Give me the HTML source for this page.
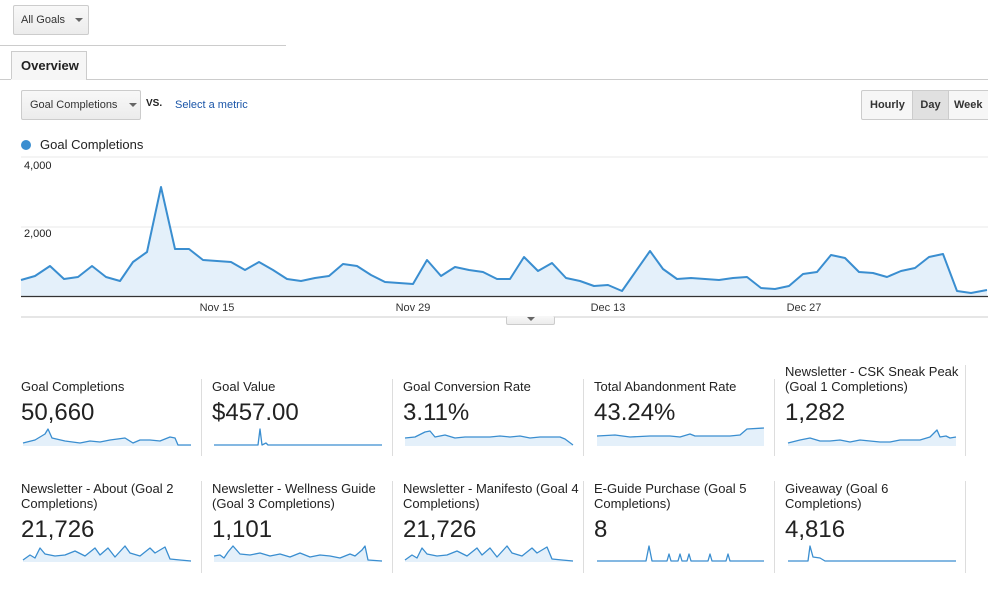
<!DOCTYPE html>
<html><head><meta charset="utf-8"><style>
*{margin:0;padding:0;box-sizing:border-box}
body{width:988px;height:592px;background:#fff;font-family:"Liberation Sans",Arial,sans-serif;position:relative;overflow:hidden;color:#222}
.a{position:absolute}
.btn{border:1px solid #ccc;border-radius:2px;background:linear-gradient(#f8f8f8,#ececec);font-size:11px;color:#333}
.tri{display:inline-block;width:0;height:0;border-left:4px solid transparent;border-right:4px solid transparent;border-top:4px solid #666}
.ct{font-size:13px;color:#222;line-height:15px}
.cv{font-size:24px;color:#222}
.sep{position:absolute;width:1px;background:#ddd}
</style></head><body>
<div class="a btn" style="left:13px;top:5px;width:76px;height:30px;line-height:28px;padding-left:7px;font-size:11px">All Goals <span class="tri" style="margin-left:7px;vertical-align:middle"></span></div>
<div class="a" style="left:0;top:45px;width:286px;height:1px;background:#ccc"></div>
<div class="a" style="left:11px;top:51px;width:76px;height:29px;border:1px solid #ccc;border-bottom:none;background:#f6f6f6;font-weight:bold;font-size:13px;line-height:28px;padding-left:9px">Overview</div>
<div class="a" style="left:0;top:79px;width:988px;height:1px;background:#ccc"></div>
<div class="a" style="left:11px;top:79px;width:75px;height:1px;background:#f6f6f6"></div>
<div class="a btn" style="left:21px;top:90px;width:120px;height:30px;line-height:28px;padding-left:8px">Goal Completions <span class="tri" style="margin-left:8px;vertical-align:middle"></span></div>
<div class="a" style="left:146px;top:98px;font-size:10px;font-weight:bold">VS.</div>
<div class="a" style="left:175px;top:99px;font-size:11px;color:#1a55a8">Select a metric</div>
<div class="a" style="left:861px;top:90px;width:130px;height:30px;border:1px solid #ccc;border-radius:2px;background:#f6f6f6;font-size:11px;font-weight:bold;color:#333">
<span class="a" style="left:8px;top:8px">Hourly</span>
<span class="a" style="left:50px;top:0;width:37px;height:28px;background:#e0e0e0;border-left:1px solid #ccc;border-right:1px solid #ccc;text-align:center;line-height:28px">Day</span>
<span class="a" style="left:92px;top:8px">Week</span></div>
<div class="a" style="left:21px;top:140px;width:10px;height:10px;border-radius:50%;background:#3a8ed0"></div>
<div class="a" style="left:40px;top:137px;font-size:13px">Goal Completions</div>
<div class="a" style="left:24px;top:160px;font-size:11px">4,000</div>
<div class="a" style="left:24px;top:228px;font-size:11px">2,000</div>
<svg class="a" style="left:0;top:150px" width="988" height="180">
<line x1="21" y1="7" x2="988" y2="7" stroke="#e8e8e8"/>
<line x1="21" y1="77" x2="988" y2="77" stroke="#e8e8e8"/>
<g transform="translate(0,-150)">
<polygon fill="#e4f0fa" points="21,296 21,280 35,276 50,266 64,279 78,277 92,266 106,277 120,281 133,262 147,252 161,187 175,249 189,249 203,260 217,261 231,262 245,270 259,262 273,270 287,279 301,281 315,278 329,276 343,264 357,266 371,275 385,282 399,283 413,284 427,260 441,276 455,267 469,270 483,272 497,279 510,279 524,257 538,271 552,263 566,278 580,281 594,286 608,285 622,291 650,251 663,269 677,279 691,278 705,279 719,280 733,278 747,277 761,288 775,289 789,286 803,274 817,272 831,255 845,258 859,272 873,273 887,277 901,271 915,268 929,257 943,254 957,291 971,293 987,290 987,296"/>
<polyline fill="none" stroke="#3a8ed0" stroke-width="2" stroke-linejoin="round" points="21,280 35,276 50,266 64,279 78,277 92,266 106,277 120,281 133,262 147,252 161,187 175,249 189,249 203,260 217,261 231,262 245,270 259,262 273,270 287,279 301,281 315,278 329,276 343,264 357,266 371,275 385,282 399,283 413,284 427,260 441,276 455,267 469,270 483,272 497,279 510,279 524,257 538,271 552,263 566,278 580,281 594,286 608,285 622,291 650,251 663,269 677,279 691,278 705,279 719,280 733,278 747,277 761,288 775,289 789,286 803,274 817,272 831,255 845,258 859,272 873,273 887,277 901,271 915,268 929,257 943,254 957,291 971,293 987,290"/>
<line x1="21" y1="296.5" x2="988" y2="296.5" stroke="#333" stroke-width="1.2"/>
<line x1="21" y1="317" x2="988" y2="317" stroke="#ccc"/>
<text x="217" y="311" font-size="11" text-anchor="middle" fill="#333" font-family="Liberation Sans">Nov 15</text>
<text x="413" y="311" font-size="11" text-anchor="middle" fill="#333" font-family="Liberation Sans">Nov 29</text>
<text x="608" y="311" font-size="11" text-anchor="middle" fill="#333" font-family="Liberation Sans">Dec 13</text>
<text x="804" y="311" font-size="11" text-anchor="middle" fill="#333" font-family="Liberation Sans">Dec 27</text>
</g></svg>
<div class="a btn" style="left:506px;top:316px;width:49px;height:9px;border-top:none;text-align:center;line-height:5px"><span class="tri"></span></div>

<div class="a ct" style="left:21px;top:379px">Goal Completions</div>
<div class="a cv" style="left:21px;top:399px">50,660</div>
<div class="a ct" style="left:212px;top:379px">Goal Value</div>
<div class="a cv" style="left:212px;top:399px">$457.00</div>
<div class="a ct" style="left:403px;top:379px">Goal Conversion Rate</div>
<div class="a cv" style="left:403px;top:399px">3.11%</div>
<div class="a ct" style="left:594px;top:379px">Total Abandonment Rate</div>
<div class="a cv" style="left:594px;top:399px">43.24%</div>
<div class="a ct" style="left:785px;top:364px">Newsletter - CSK Sneak Peak<br>(Goal 1 Completions)</div>
<div class="a cv" style="left:785px;top:399px">1,282</div>

<div class="a ct" style="left:21px;top:481px">Newsletter - About (Goal 2<br>Completions)</div>
<div class="a cv" style="left:21px;top:516px">21,726</div>
<div class="a ct" style="left:212px;top:481px">Newsletter - Wellness Guide<br>(Goal 3 Completions)</div>
<div class="a cv" style="left:212px;top:516px">1,101</div>
<div class="a ct" style="left:403px;top:481px">Newsletter - Manifesto (Goal 4<br>Completions)</div>
<div class="a cv" style="left:403px;top:516px">21,726</div>
<div class="a ct" style="left:594px;top:481px">E-Guide Purchase (Goal 5<br>Completions)</div>
<div class="a cv" style="left:594px;top:516px">8</div>
<div class="a ct" style="left:785px;top:481px">Giveaway (Goal 6<br>Completions)</div>
<div class="a cv" style="left:785px;top:516px">4,816</div>

<div class="sep" style="left:201px;top:379px;height:77px"></div>
<div class="sep" style="left:392px;top:379px;height:77px"></div>
<div class="sep" style="left:583px;top:379px;height:77px"></div>
<div class="sep" style="left:774px;top:379px;height:77px"></div>
<div class="sep" style="left:965px;top:365px;height:91px"></div>
<div class="sep" style="left:201px;top:481px;height:92px"></div>
<div class="sep" style="left:392px;top:481px;height:92px"></div>
<div class="sep" style="left:583px;top:481px;height:92px"></div>
<div class="sep" style="left:774px;top:481px;height:92px"></div>
<div class="sep" style="left:965px;top:481px;height:92px"></div>

<svg class="a" style="left:0;top:0" width="988" height="592" fill="none" stroke="#3a8ed0" stroke-width="1.3" stroke-linejoin="round">
<g fill="#e4f0fa" stroke="none">
<polygon points="23,446 23,443 35,440 45,434 48,429 52,438 65,441 80,443 90,441 100,442 110,440 125,438 133,443 140,440 150,440 160,441 170,437 175,438 178,445 191,445 191,446"/>
<polygon points="405,446 405,438 415,437 425,432 430,431 435,437 445,435 455,438 465,437 475,437 490,437 500,436 510,437 520,436 530,438 540,437 550,437 560,437 565,439 573,446"/>
<polygon points="597,446 597,436 615,435 630,437 650,436 670,436 680,437 690,434 695,436 710,436 720,436 730,436 740,435 747,429 764,428 764,446"/>
<polygon points="788,446 788,443 800,440 810,438 820,441 830,441 840,440 850,442 860,440 870,441 880,442 890,442 900,440 910,440 920,440 930,437 937,430 940,437 946,436 950,438 956,437 956,446"/>
<polygon points="23,562 23,560 30,555 35,558 40,548 45,554 55,556 65,555 75,551 85,556 95,548 100,555 108,548 115,557 125,546 130,553 140,556 150,548 155,553 165,547 170,559 180,560 191,561 191,562"/>
<polygon points="405,562 405,560 412,555 417,558 422,548 427,554 437,556 447,555 457,551 467,556 477,548 482,555 490,548 497,557 507,546 512,553 522,556 532,548 537,553 547,547 552,559 562,560 573,561 573,562"/>
<polygon points="214,562 214,556 220,555 224,558 228,552 233,546 240,554 250,555 260,553 270,556 280,554 290,557 300,553 310,557 320,555 330,556 340,558 350,554 355,556 362,550 365,546 368,560 382,561 382,562"/>
</g>
<polyline points="23,443 35,440 45,434 48,429 52,438 65,441 80,443 90,441 100,442 110,440 125,438 133,443 140,440 150,440 160,441 170,437 175,438 178,445 191,445"/>
<polyline points="214,445 258,445 260,429 262,445 266,443 268,445 382,445"/>
<polyline points="405,438 415,437 425,432 430,431 435,437 445,435 455,438 465,437 475,437 490,437 500,436 510,437 520,436 530,438 540,437 550,437 560,437 565,439 573,445"/>
<polyline points="597,436 615,435 630,437 650,436 670,436 680,437 690,434 695,436 710,436 720,436 730,436 740,435 747,429 764,428"/>
<polyline points="788,443 800,440 810,438 820,441 830,441 840,440 850,442 860,440 870,441 880,442 890,442 900,440 910,440 920,440 930,437 937,430 940,437 946,436 950,438 956,437"/>
<polyline points="23,560 30,555 35,558 40,548 45,554 55,556 65,555 75,551 85,556 95,548 100,555 108,548 115,557 125,546 130,553 140,556 150,548 155,553 165,547 170,559 180,560 191,561"/>
<polyline points="214,556 220,555 224,558 228,552 233,546 240,554 250,555 260,553 270,556 280,554 290,557 300,553 310,557 320,555 330,556 340,558 350,554 355,556 362,550 365,546 368,560 382,561"/>
<polyline points="405,560 412,555 417,558 422,548 427,554 437,556 447,555 457,551 467,556 477,548 482,555 490,548 497,557 507,546 512,553 522,556 532,548 537,553 547,547 552,559 562,560 573,561"/>
<polyline points="597,561 646,561 649,546 652,561 667,561 669,554 671,561 678,561 680,554 682,561 687,561 689,554 691,561 708,561 710,554 712,561 726,561 728,554 730,561 764,561"/>
<polyline points="788,561 808,561 810,546 813,557 820,558 825,561 956,561"/>
</svg>
</body></html>
